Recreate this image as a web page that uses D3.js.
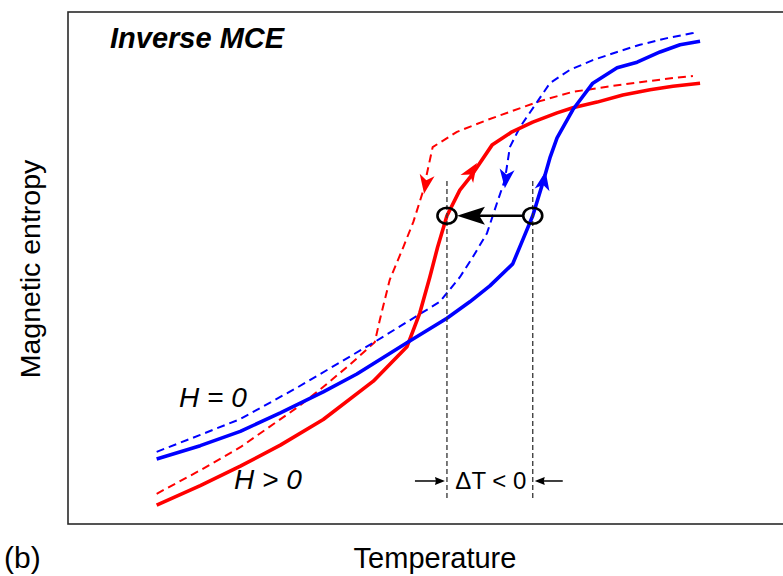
<!DOCTYPE html>
<html>
<head>
<meta charset="utf-8">
<script src="https://cdn.jsdelivr.net/npm/d3@7"></script>
<style>
  html, body { margin: 0; padding: 0; background: #fff; }
  svg { display: block; }
  text { font-family: "Liberation Sans", Arial, Helvetica, sans-serif; fill: #000; }
</style>
</head>
<body>
<svg id="chart" width="783" height="576"></svg>
<script>
// Schematic magnetic entropy vs temperature (arbitrary units), inverse MCE.
// Each curve is a list of [temperature, entropy] points.
const redHeating = [
  [12.4, 3.7], [18.5, 7.5], [24.1, 11.3], [29.7, 15.4], [35.7, 20.4], [42.7, 27.9],
  [47.4, 34.6], [49.2, 41.2], [50.6, 48.2], [51.7, 54.1], [53.0, 60.2], [54.8, 65.2],
  [56.5, 68.2], [59.3, 74.0], [62.1, 76.6], [65.0, 78.5], [68.4, 80.3], [70.6, 81.3],
  [74.0, 82.4], [77.6, 83.8], [81.4, 84.8], [84.6, 85.5], [88.4, 86.1]
];
const redCooling = [
  [12.4, 5.9], [18.5, 10.5], [24.1, 15.0], [32.0, 22.7], [35.2, 26.2], [39.4, 31.1],
  [42.9, 35.5], [43.6, 39.8], [45.0, 47.7], [46.9, 54.1], [48.3, 59.0], [49.7, 65.2],
  [51.0, 73.6], [54.4, 76.6], [58.6, 78.9], [61.8, 80.5], [66.0, 82.6], [70.6, 84.4],
  [75.4, 85.4], [80.0, 86.3], [84.6, 87.1], [87.4, 87.5]
];
const blueHeating = [
  [12.4, 12.7], [18.5, 15.3], [24.1, 18.1], [29.7, 21.7], [35.7, 25.8], [40.4, 29.3],
  [47.4, 35.4], [53.0, 40.2], [56.2, 43.4], [59.0, 46.5], [62.2, 50.8], [63.6, 55.5],
  [65.0, 60.2], [66.4, 66.6], [67.4, 71.5], [68.4, 75.4], [70.6, 80.9], [73.4, 86.1],
  [76.8, 89.1], [79.6, 90.2], [82.8, 92.2], [85.6, 93.6], [88.4, 94.3]
];
const blueCooling = [
  [12.4, 14.1], [18.5, 17.4], [24.1, 20.5], [32.0, 26.6], [42.7, 35.4], [52.0, 43.4],
  [54.8, 48.2], [56.6, 52.1], [58.6, 56.8], [60.0, 62.7], [61.1, 67.2], [61.8, 73.6],
  [63.2, 77.5], [65.6, 82.4], [67.4, 86.1], [70.2, 88.7], [73.4, 90.6], [76.8, 92.2],
  [80.0, 93.6], [83.8, 94.9], [87.4, 95.9], [87.4, 96.7]
];

// Direction arrows on the curves: tip point and a point behind it along the curve.
const curveArrows = [
  { color: "#ff0000", tip: [57.2, 70.5], tail: [54.8, 65.2] },
  { color: "#0000ff", tip: [66.8, 68.9], tail: [66.0, 63.0] },
  { color: "#ff0000", tip: [49.8, 64.5], tail: [50.5, 70.5] },
  { color: "#0000ff", tip: [61.1, 65.6], tail: [61.6, 71.5] }
];

// Isentropic states at H = 0 and H > 0, and the temperature change between them.
const entropyLevel = 60.2;
const tHigh = 65.0;   // H = 0
const tLow = 53.0;    // H > 0

const svg = d3.select("#chart");
const frame = { left: 68, top: 12, right: 800, bottom: 524 };

const x = d3.scaleLinear().domain([0, 100]).range([frame.left, 783]);
const y = d3.scaleLinear().domain([0, 100]).range([frame.bottom, frame.top]);

// Plot frame (right side runs off the page)
svg.append("rect")
  .attr("x", frame.left).attr("y", frame.top)
  .attr("width", frame.right - frame.left).attr("height", frame.bottom - frame.top)
  .attr("fill", "none").attr("stroke", "#2a2a2a").attr("stroke-width", 1.6);

const line = d3.line().x(d => x(d[0])).y(d => y(d[1]));

function drawCurve(data, color, dashed) {
  svg.append("path")
    .datum(data)
    .attr("d", line)
    .attr("fill", "none")
    .attr("stroke", color)
    .attr("stroke-width", dashed ? 2 : 3.6)
    .attr("stroke-linejoin", "round")
    .attr("stroke-dasharray", dashed ? "8,5" : null);
}

drawCurve(redCooling, "#ff0000", true);
drawCurve(blueCooling, "#0000ff", true);
drawCurve(redHeating, "#ff0000", false);
drawCurve(blueHeating, "#0000ff", false);

// Notched arrowhead with tip at (tx, ty) pointing along angle a
function arrowHead(tx, ty, a, len, half, notch, color) {
  const c = Math.cos(a), s = Math.sin(a);
  const pt = (u, v) => [tx - u * c - v * s, ty - u * s + v * c];
  const p = [pt(0, 0), pt(len, half), pt(len * notch, 0), pt(len, -half)];
  svg.append("path")
    .attr("d", "M" + p.map(q => q.join(",")).join("L") + "Z")
    .attr("fill", color).attr("stroke", "none");
}

curveArrows.forEach(d => {
  const tx = x(d.tip[0]), ty = y(d.tip[1]);
  const a = Math.atan2(ty - y(d.tail[1]), tx - x(d.tail[0]));
  arrowHead(tx, ty, a, 19, 7.5, 0.72, d.color);
});

// Vertical dashed guides at the two temperatures
[tLow, tHigh].forEach(t => {
  svg.append("line")
    .attr("x1", x(t)).attr("x2", x(t))
    .attr("y1", y(67)).attr("y2", y(4.7))
    .attr("stroke", "#333").attr("stroke-width", 1.3)
    .attr("stroke-dasharray", "5,3");
});

// Horizontal arrow from H = 0 state to H > 0 state
svg.append("line")
  .attr("x1", x(tHigh) - 9).attr("x2", x(tLow) + 22)
  .attr("y1", y(entropyLevel)).attr("y2", y(entropyLevel))
  .attr("stroke", "#000").attr("stroke-width", 2.6);
arrowHead(x(tLow) + 10, y(entropyLevel), Math.PI, 28, 9, 0.8, "#000");

// State markers
[tLow, tHigh].forEach(t => {
  svg.append("ellipse")
    .attr("cx", x(t)).attr("cy", y(entropyLevel))
    .attr("rx", 9.5).attr("ry", 8)
    .attr("fill", "none").attr("stroke", "#000").attr("stroke-width", 2.6);
});

// Delta T annotation
const yDT = y(8.4);
svg.append("line")
  .attr("x1", x(tLow) - 32).attr("x2", x(tLow) - 8)
  .attr("y1", yDT).attr("y2", yDT)
  .attr("stroke", "#000").attr("stroke-width", 1.5);
arrowHead(x(tLow) - 2, yDT, 0, 10, 4, 0.9, "#000");
svg.append("line")
  .attr("x1", x(tHigh) + 30).attr("x2", x(tHigh) + 8)
  .attr("y1", yDT).attr("y2", yDT)
  .attr("stroke", "#000").attr("stroke-width", 1.5);
arrowHead(x(tHigh) + 2, yDT, Math.PI, 10, 4, 0.9, "#000");

svg.append("text")
  .attr("x", (x(tLow) + x(tHigh)) / 2 + 1).attr("y", yDT + 8)
  .attr("text-anchor", "middle")
  .style("font-size", "24px")
  .text("\u0394T < 0");

// Labels
svg.append("text")
  .attr("x", 110).attr("y", 48)
  .style("font-size", "29px").style("font-weight", "bold").style("font-style", "italic")
  .text("Inverse MCE");

svg.append("text")
  .attr("x", 179).attr("y", 407)
  .style("font-size", "28px").style("font-style", "italic")
  .text("H = 0");

svg.append("text")
  .attr("x", 234).attr("y", 489)
  .style("font-size", "28px").style("font-style", "italic")
  .text("H > 0");

svg.append("text")
  .attr("transform", "translate(40,269) rotate(-90)")
  .attr("text-anchor", "middle")
  .style("font-size", "28.5px")
  .text("Magnetic entropy");

svg.append("text")
  .attr("x", 435).attr("y", 568)
  .attr("text-anchor", "middle")
  .style("font-size", "29px")
  .text("Temperature");

svg.append("text")
  .attr("x", 4).attr("y", 568)
  .style("font-size", "30px")
  .text("(b)");
</script>
</body>
</html>
